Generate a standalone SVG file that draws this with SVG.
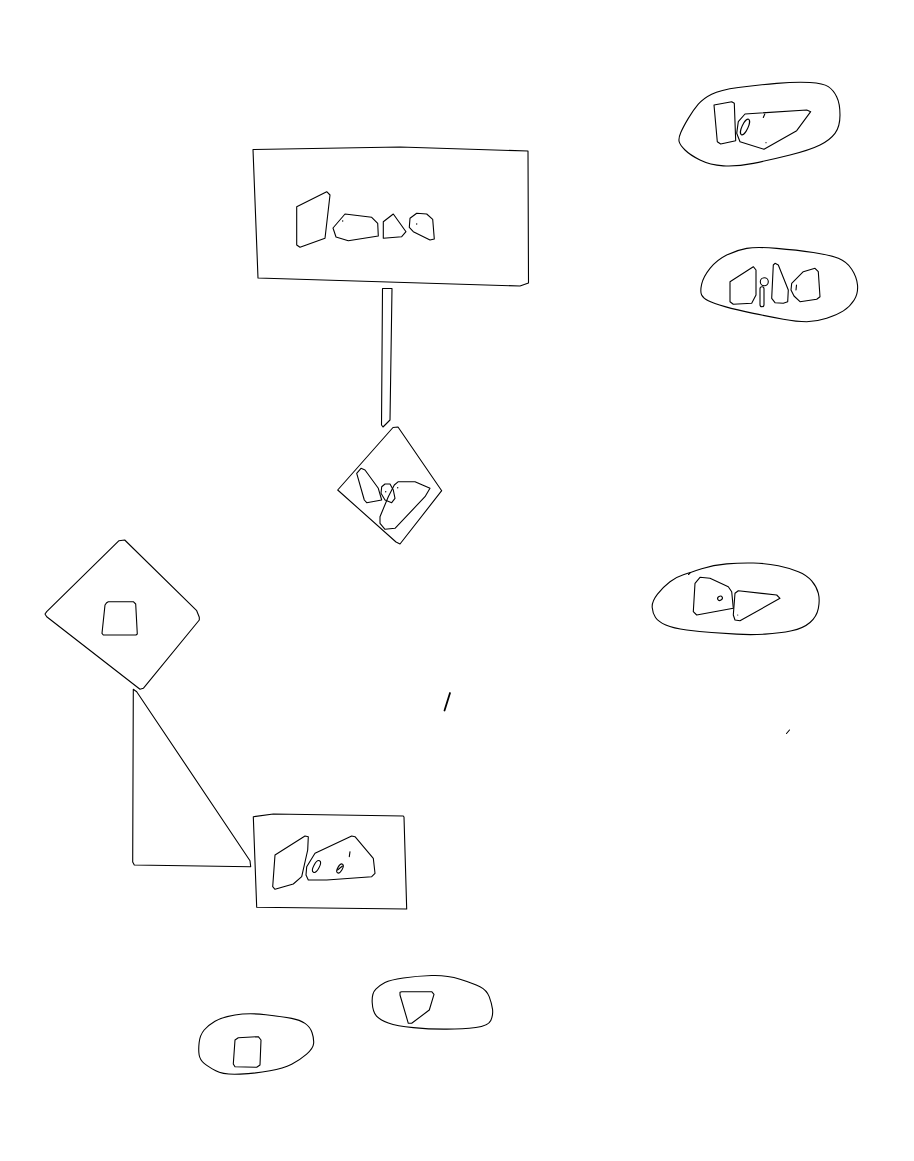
<svg xmlns="http://www.w3.org/2000/svg" width="914" height="1161" viewBox="0 0 914 1161">
<style>
.s{fill:none;stroke:#000;stroke-width:1.1;stroke-linejoin:round;stroke-linecap:round}
.d{fill:#000;stroke:none}
</style>
<rect width="914" height="1161" fill="#fff"/>
<g id="node-top-rect" class="s">
<polygon points="253,149.5 400,147 528,151 528.5,283 520,286 258,278"/>
<polygon points="296.7,206.7 326.7,191.7 330,195 325,238.3 300,247.3 296.7,245"/>
<polygon points="333,228 345,214 371.7,217.3 377.7,223.3 378.3,236 348.3,240.7 336,237"/>
<circle class="d" cx="342.7" cy="221" r="0.7"/>
<polygon points="383.3,221.7 393.3,214 406,231.7 401.7,236.7 383.3,238.3"/>
<polygon points="410,218.3 416.7,213.3 426.7,214 432.7,219.3 434.3,239 430,240 413.3,231.7 409.3,227.3"/>
<circle class="d" cx="416.7" cy="224" r="0.7"/>
</g>
<g id="node-diamond-center" class="s">
<polygon points="393,427.5 398,427 441.7,490.7 400,544 396,542 337.7,490"/>
<polygon points="356.7,473.3 361,468.3 365,470 378.3,488.3 381.7,500 366.7,502.7 364.3,500"/>
<polygon points="381.7,486.7 385,484 390,484 393.3,490 395,498.3 391.7,502.7 385,500 381,493.3"/>
<circle class="d" cx="385.7" cy="491.7" r="0.7"/>
<polygon points="394.3,485 398.3,481.7 415,481.7 430,488.3 425,496.7 395,528.3 385,529.3 380,523.3 380,516.7 388.3,496.7"/>
<circle class="d" cx="397.7" cy="487.7" r="0.7"/>
</g>
<g id="node-blob-top-right" class="s">
<path d="M679.15,141.65 Q678.3,138.3 680.8,132.5 Q683.3,126.7 688.3,118.35 Q693.3,110 698.3,104.15 Q703.3,98.3 711.65,94.15 Q720,90 738.35,87.5 Q756.7,85 776.7,83.35 Q796.7,81.7 810,82.5 Q823.3,83.3 828.3,86.65 Q833.3,90 836.65,96.65 Q840,103.3 840,115 Q840,126.7 835,133.35 Q830,140 820,145 Q810,150 790,155 Q770,160 753.35,163.35 Q736.7,166.7 723.35,165.85 Q710,165 700,160 Q690,155 685,150 Q680,145 679.15,141.65 Z"/>
<polygon points="714,105 731.7,101.7 734.3,103.3 735.7,140.7 720.7,144 717.3,141.7"/>
<polygon points="738.3,121.7 745,114 806.7,110 810.7,111.7 796.7,130.7 764,149.3 740,141.7 736.7,133.3"/>
<ellipse cx="745" cy="127" rx="3" ry="8.5" transform="rotate(25 745 127)"/>
<line x1="763.3" y1="117.5" x2="764.8" y2="114"/>
<circle class="d" cx="766" cy="142.7" r="0.6"/>
</g>
<g id="node-blob-right-2" class="s">
<path d="M701.65,295 Q700,291.7 701.65,284.2 Q703.3,276.7 710,268.35 Q716.7,260 726.7,255 Q736.7,250 746.7,248.35 Q756.7,246.7 776.7,248.35 Q796.7,250 813.35,252.5 Q830,255 838.35,258.35 Q846.7,261.7 851.7,269.2 Q856.7,276.7 857.5,285 Q858.3,293.3 854.15,300 Q850,306.7 843.35,310.85 Q836.7,315 826.7,318.35 Q816.7,321.7 806.7,321.7 Q796.7,321.7 783.35,319.2 Q770,316.7 753.35,313.35 Q736.7,310 725,306.65 Q713.3,303.3 708.3,300.8 Q703.3,298.3 701.65,295 Z"/>
<polygon points="730,281.7 753.3,266.7 756,270 756,295 751.7,303.3 733.3,304.3 730,301.7"/>
<circle cx="764.3" cy="281.7" r="4"/>
<rect x="760" y="286.7" width="4" height="20" rx="2"/>
<polygon points="773.3,265 775,263.3 778.3,265 788.3,290 787.7,301.7 783.3,303.3 775,302.7 771.7,298.3"/>
<polygon points="791.7,283.3 803.3,271.7 815,268.3 818.3,271.7 820,296.7 816.7,299.3 800,301.7 794,296 791,290"/>
<line x1="796.5" y1="285" x2="796" y2="290"/>
</g>
<g id="node-diamond-left" class="s">
<polygon points="119,540.7 124.7,540 196.7,610.7 199.3,617.3 199.3,620 143.3,688.3 140,689.3 46.7,616.7 45,614 46.7,611.7"/>
<polygon points="106.7,602.7 108.3,601.7 133.3,601.7 135.7,604 137.3,634 136,635 103.3,635 102,633.3 105,605"/>
</g>
<g id="node-blob-right-3" class="s">
<path d="M652.2,607.5 Q651.7,601.7 657.5,594.2 Q663.3,586.7 670,581.7 Q676.7,576.7 683.35,574.7 Q690,572.7 701.65,568.85 Q713.3,565 726.65,563.85 Q740,562.7 753.35,563 Q766.7,563.3 778.35,565.8 Q790,568.3 798.35,571.65 Q806.7,575 811.7,580.85 Q816.7,586.7 818.35,593.35 Q820,600 818.35,608.35 Q816.7,616.7 810,622.5 Q803.3,628.3 791.65,630.8 Q780,633.3 765,634.15 Q750,635 736.65,634.15 Q723.3,633.3 711.65,632.5 Q700,631.7 686.65,630 Q673.3,628.3 665.8,625 Q658.3,621.7 655.5,617.5 Q652.7,613.3 652.2,607.5 Z"/>
<line x1="688.5" y1="574.5" x2="690" y2="573"/>
<polygon points="695,583.3 700,577.3 710,578.3 728.3,586.7 731.7,591.7 733.3,608.3 696.7,615 693.3,611.7"/>
<ellipse cx="720" cy="598.3" rx="2.5" ry="2" transform="rotate(-30 720 598.3)"/>
<polygon points="735,593.3 738.3,590.7 776.7,595 780,598.3 740,620.7 735,620 733.3,615"/>
<circle class="d" cx="737.7" cy="615" r="0.6"/>
</g>
<g id="node-bottom-rect" class="s">
<polygon points="253.3,816.7 273.3,814 403.3,816 404,817 406.7,909 256.7,907.3"/>
<polygon points="275,855 305,836 308.3,836.7 307.7,850 301.7,876.7 293.3,884 275,889.3 272.7,886.7"/>
<polygon points="306.7,866.7 315,853.3 351.7,836 355,836.7 373.3,858.3 375,873.3 371.7,876.7 326.7,880 308.3,880 306,875"/>
<ellipse cx="316.5" cy="866.5" rx="2.8" ry="6.5" transform="rotate(28 316.5 866.5)"/>
<ellipse cx="340" cy="868.5" rx="2.3" ry="5" transform="rotate(30 340 868.5)"/>
<line x1="337.5" y1="870" x2="342.5" y2="866"/>
<line x1="350" y1="851.7" x2="349.3" y2="856.7"/>
</g>
<g id="node-blob-bottom-left" class="s">
<path d="M199.15,1055 Q198.3,1050 199.15,1042.5 Q200,1035 204.15,1030 Q208.3,1025 215,1021.15 Q221.7,1017.3 235,1015 Q248.3,1012.7 265.8,1014.7 Q283.3,1016.7 291.65,1018.35 Q300,1020 305,1023.35 Q310,1026.7 312,1032.5 Q314,1038.3 313.65,1043.3 Q313.3,1048.3 306.65,1054.15 Q300,1060 291.65,1064.15 Q283.3,1068.3 270,1070.8 Q256.7,1073.3 240,1074.15 Q223.3,1075 215.8,1070.85 Q208.3,1066.7 204.15,1063.35 Q200,1060 199.15,1055 Z"/>
<polygon points="235,1040 238.3,1037.7 258.3,1036.7 261,1040 260,1065 256.7,1067.3 235,1066.7 233.3,1064"/>
</g>
<g id="node-blob-bottom-right" class="s">
<path d="M372.2,1002.5 Q371.7,993.3 375.85,989.15 Q380,985 385,982.5 Q390,980 403.35,978 Q416.7,976 431.7,975.5 Q446.7,975 460,979.15 Q473.3,983.3 480,986.65 Q486.7,990 489.2,996.65 Q491.7,1003.3 492.5,1009.15 Q493.3,1015 490.8,1020.5 Q488.3,1026 475.8,1027.5 Q463.3,1029 446.65,1029.15 Q430,1029.3 413.35,1027.65 Q396.7,1026 388.35,1023 Q380,1020 376.35,1015.85 Q372.7,1011.7 372.2,1002.5 Z"/>
<polygon points="400,992.3 401.7,991.7 431.7,991.7 434,994.3 429.3,1010 411.7,1023.3 408.3,1023.3 400,995"/>
</g>
<g id="connectors" class="s">
<polygon points="382.5,288.5 392,288.5 390,420 383,427 381.5,425"/>
<polygon points="133.3,689.3 136.7,691.7 250,860.7 250.7,866.7 134.3,865 132.7,862"/>
<line x1="444.5" y1="710.5" x2="450" y2="693" stroke-width="1.8"/>
<line x1="786.5" y1="733.5" x2="789.5" y2="730"/>
</g>
</svg>
